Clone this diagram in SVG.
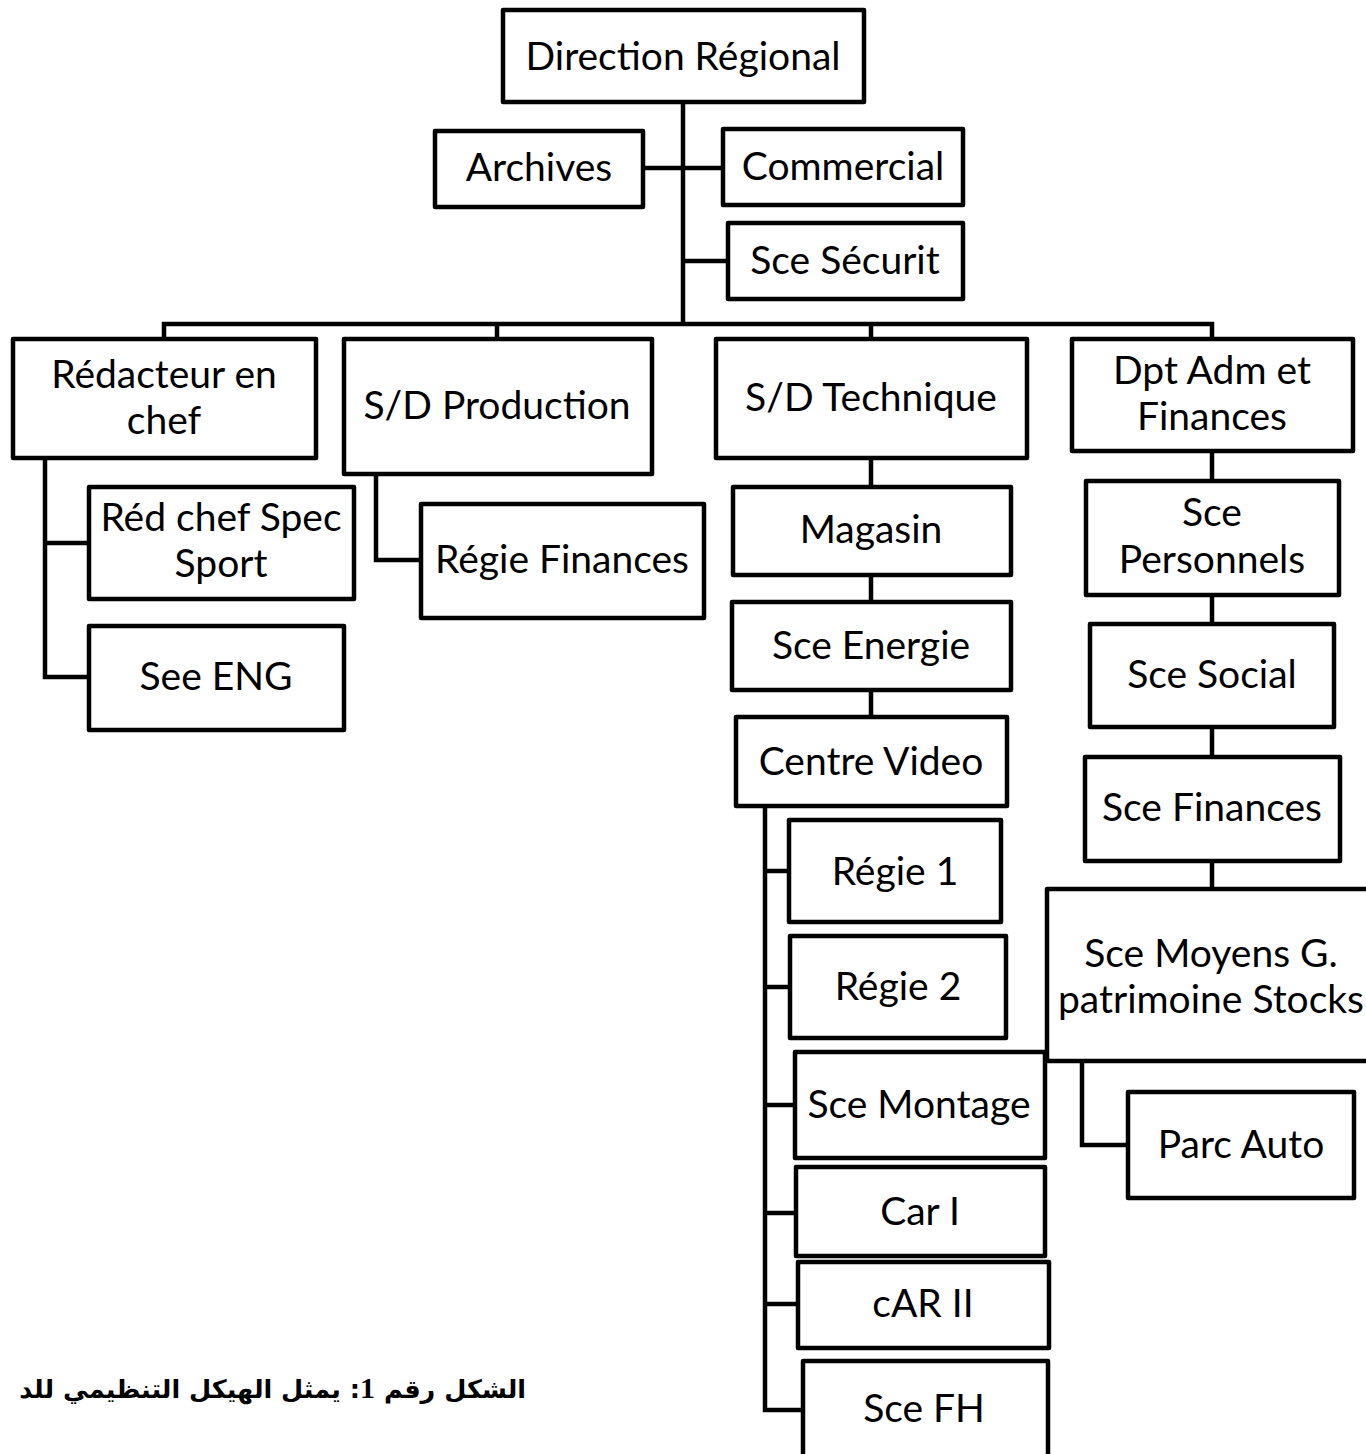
<svg xmlns="http://www.w3.org/2000/svg" width="1366" height="1454" viewBox="0 0 1366 1454">
<style>
.box{fill:#fff;stroke:#000;stroke-width:4.5;stroke-linejoin:round}
.t{font-family:Lato,"Open Sans","Liberation Sans",sans-serif;font-size:39px;fill:#000;text-anchor:middle}
.c{fill:none;stroke:#000;stroke-width:4.5;stroke-linejoin:miter}
.cap{font-family:"DejaVu Sans","Liberation Serif",serif;font-weight:bold;font-size:25.5px;fill:#000}
.num{font-family:"Liberation Serif",serif;font-weight:bold;font-size:30px}
</style>
<rect width="1366" height="1454" fill="#fff"/>
<g id="connectors">
<path class="c" d="M683 102V324M643 168H723M683 261H728"/>
<path class="c" d="M164 339V324H1212V339M497 324V339M871 324V339"/>
<path class="c" d="M45 458V677H89M45 543H89"/>
<path class="c" d="M376 474V560H421"/>
<path class="c" d="M871 458V487M871 575V602M871 690V717"/>
<path class="c" d="M765 806V1410H803M765 871H789M765 987H790M765 1105H795M765 1213H796M765 1304H798"/>
<path class="c" d="M1212 451V481M1212 595V624M1212 727V757M1212 861V889"/>
<path class="c" d="M1082 1061V1145H1128"/>
</g>
<g id="n-direction"><rect class="box" x="503" y="10" width="361" height="92"/><text class="t" x="683" y="70">Direction Régional</text></g>
<g id="n-archives"><rect class="box" x="435" y="131" width="208" height="76"/><text class="t" x="539" y="181">Archives</text></g>
<g id="n-commercial"><rect class="box" x="723" y="129" width="240" height="76"/><text class="t" x="843" y="180">Commercial</text></g>
<g id="n-securit"><rect class="box" x="728" y="223" width="235" height="76"/><text class="t" x="845" y="274">Sce Sécurit</text></g>
<g id="n-redacteur"><rect class="box" x="13" y="339" width="303" height="119"/><text class="t" x="164" y="388">Rédacteur en</text><text class="t" x="164" y="434">chef</text></g>
<g id="n-production"><rect class="box" x="344" y="339" width="308" height="135"/><text class="t" x="497" y="419">S/D Production</text></g>
<g id="n-technique"><rect class="box" x="716" y="339" width="311" height="119"/><text class="t" x="871" y="411">S/D Technique</text></g>
<g id="n-dpt"><rect class="box" x="1072" y="339" width="281" height="112"/><text class="t" x="1212" y="384">Dpt Adm et</text><text class="t" x="1212" y="430">Finances</text></g>
<g id="n-redsport"><rect class="box" x="89" y="487" width="265" height="112"/><text class="t" x="221" y="531">Réd chef Spec</text><text class="t" x="221" y="577">Sport</text></g>
<g id="n-seeeng"><rect class="box" x="89" y="626" width="255" height="104"/><text class="t" x="216" y="690">See ENG</text></g>
<g id="n-regiefin"><rect class="box" x="421" y="504" width="283" height="114"/><text class="t" x="562" y="573">Régie Finances</text></g>
<g id="n-magasin"><rect class="box" x="733" y="487" width="278" height="88"/><text class="t" x="871" y="543">Magasin</text></g>
<g id="n-energie"><rect class="box" x="732" y="602" width="279" height="88"/><text class="t" x="871" y="659">Sce Energie</text></g>
<g id="n-video"><rect class="box" x="736" y="717" width="271" height="89"/><text class="t" x="871" y="775">Centre Video</text></g>
<g id="n-regie1"><rect class="box" x="789" y="820" width="212" height="102"/><text class="t" x="895" y="885">Régie 1</text></g>
<g id="n-regie2"><rect class="box" x="790" y="936" width="216" height="102"/><text class="t" x="898" y="1000">Régie 2</text></g>
<g id="n-moyens"><rect class="box" x="1047" y="889" width="330" height="172"/><text class="t" x="1211" y="967">Sce Moyens G.</text><text class="t" x="1211" y="1013">patrimoine Stocks</text></g>
<g id="n-montage"><rect class="box" x="795" y="1052" width="250" height="106"/><text class="t" x="919" y="1118">Sce Montage</text></g>
<g id="n-car1"><rect class="box" x="796" y="1167" width="249" height="89"/><text class="t" x="920" y="1225">Car I</text></g>
<g id="n-car2"><rect class="box" x="798" y="1262" width="251" height="86"/><text class="t" x="923" y="1317">cAR II</text></g>
<g id="n-scefh"><rect class="box" x="803" y="1361" width="245" height="110"/><text class="t" x="924" y="1422">Sce FH</text></g>
<g id="n-personnels"><rect class="box" x="1086" y="481" width="253" height="114"/><text class="t" x="1212" y="526">Sce</text><text class="t" x="1212" y="573">Personnels</text></g>
<g id="n-social"><rect class="box" x="1090" y="624" width="244" height="103"/><text class="t" x="1212" y="688">Sce Social</text></g>
<g id="n-finances"><rect class="box" x="1085" y="757" width="255" height="104"/><text class="t" x="1212" y="821">Sce Finances</text></g>
<g id="n-parcauto"><rect class="box" x="1128" y="1092" width="226" height="106"/><text class="t" x="1241" y="1158">Parc Auto</text></g>
<text class="cap" x="526" y="1398" direction="rtl" text-anchor="start">الشكل رقم <tspan class="num">1</tspan>: يمثل الهيكل التنظيمي للد</text>
</svg>
